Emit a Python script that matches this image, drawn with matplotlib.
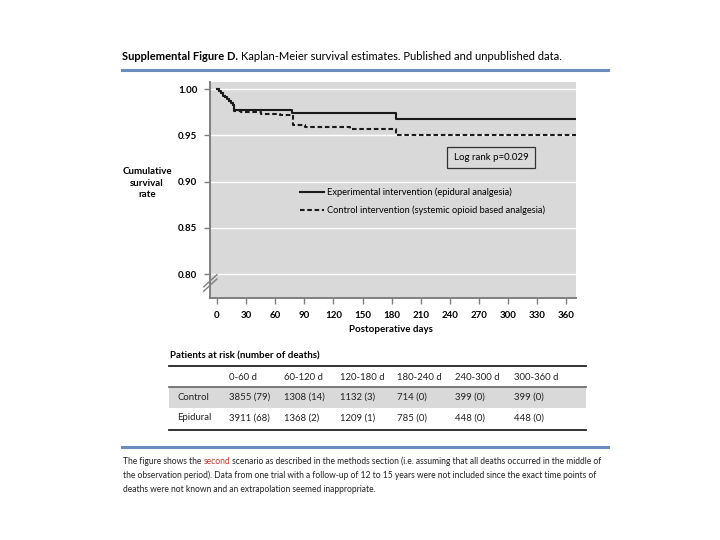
import numpy as np
import matplotlib
matplotlib.use("Agg")
from matplotlib import pyplot as plt

plt.rcParams['font.family'] = ['Lato', 'DejaVu Sans']

# --- survival curves (step points) ---
days_epi = [0, 2, 4, 6, 8, 10, 12, 14, 16, 18, 77, 184, 370]
surv_epi = [1.0, 0.998, 0.996, 0.993, 0.991, 0.989, 0.987, 0.985, 0.983,
            0.977, 0.974, 0.968, 0.968]
days_ctl = [0, 2, 4, 6, 8, 10, 12, 14, 16, 18, 25, 45, 65, 78, 91, 137, 184, 370]
surv_ctl = [1.0, 0.998, 0.996, 0.993, 0.991, 0.989, 0.987, 0.985, 0.983,
            0.976, 0.975, 0.973, 0.972, 0.961, 0.959, 0.957, 0.950, 0.950]

label_epi = 'Experimental intervention (epidural analgesia)'
label_ctl = 'Control intervention (systemic opioid based analgesia)'

x_ticks = [0, 30, 60, 90, 120, 150, 180, 210, 240, 270, 300, 330, 360]
y_ticks = [0.80, 0.85, 0.90, 0.95, 1.00]

# --- risk table ---
periods = ['0-60 d', '60-120 d', '120-180 d', '180-240 d', '240-300 d', '300-360 d']
ctl_risk = ['3855 (79)', '1308 (14)', '1132 (3)', '714 (0)', '399 (0)', '399 (0)']
epi_risk = ['3911 (68)', '1368 (2)', '1209 (1)', '785 (0)', '448 (0)', '448 (0)']

W, H = 720, 540
fig = plt.figure(figsize=(W / 100, H / 100), dpi=100)


def fx(x):
    return x / W


def fy(y):
    return 1 - y / H


BLUE = '#6a8cbf'
GRAY_BG = '#d9d9d9'
TXT = '#222222'

# header
t0 = fig.text(fx(122), fy(56), 'Supplemental Figure D.', fontsize=8.0, fontweight='bold',
              va='center', ha='left')
fig.canvas.draw()
x_after = t0.get_window_extent(fig.canvas.get_renderer()).x1
fig.text(x_after / W + 0.004, fy(56),
         'Kaplan-Meier survival estimates. Published and unpublished data.',
         fontsize=8.0, va='center', ha='left')
fig.add_artist(plt.Line2D([fx(122), fx(608)], [fy(70), fy(70)], color=BLUE, lw=2.2))

# --- KM plot ---
ax = fig.add_axes([fx(210), fy(298), (576 - 210) / W, (298 - 82) / H])
ax.set_facecolor(GRAY_BG)
for yv in y_ticks:
    ax.axhline(yv, color='white', lw=1.0, zorder=1)
ax.step(days_epi, surv_epi, where='post', color='#1a1a1a', lw=1.5, label=label_epi, zorder=3)
ax.step(days_ctl, surv_ctl, where='post', color='#1a1a1a', lw=1.5, ls=(0, (2.2, 1.3)),
        label=label_ctl, zorder=3)

ax.set_xlim(-7.2, 370)
ax.set_ylim(0.7743, 1.0076)
ax.set_xticks(x_ticks)
ax.set_yticks(y_ticks)
ax.set_yticklabels([f'{v:.2f}' for v in y_ticks])
for s in ['top', 'right']:
    ax.spines[s].set_visible(False)
for s in ['left', 'bottom']:
    ax.spines[s].set_color('#7f7f7f')
    ax.spines[s].set_linewidth(1.4)
ax.tick_params(axis='both', length=4, width=1, color='#7f7f7f', labelsize=7, pad=5)
for lab in ax.get_xticklabels() + ax.get_yticklabels():
    lab.set_fontweight('bold')

# axis break marks
for dy in (0.0, 0.02):
    ax.plot([-0.017, 0.019], [0.032 + dy, 0.088 + dy], transform=ax.transAxes,
            color='#7f7f7f', lw=1.0, clip_on=False, zorder=5)

ax.legend(loc='upper left', bbox_to_anchor=(0.245, 0.51), frameon=False,
          fontsize=6.65, handlelength=2.6, handletextpad=0.4, borderpad=0,
          borderaxespad=0, labelspacing=0.9)

ax.text(0.768, 0.651, 'Log rank p=0.029', transform=ax.transAxes, fontsize=7.0,
        ha='center', va='center',
        bbox=dict(boxstyle='square,pad=0.65', facecolor=GRAY_BG, edgecolor='#333333', lw=0.9))

fig.text(fx(147), fy(183), 'Cumulative\nsurvival\nrate', fontsize=7.0, fontweight='bold',
         ha='center', va='center', linespacing=1.4)
fig.text(fx(391), fy(330), 'Postoperative days', fontsize=7.0, fontweight='bold',
         ha='center', va='center')

# --- risk table ---
fig.text(fx(170), fy(356), 'Patients at risk (number of deaths)', fontsize=7.0,
         fontweight='bold', ha='left', va='center')
fig.add_artist(plt.Line2D([fx(169), fx(586)], [fy(366), fy(366)], color=TXT, lw=1.3))
fig.add_artist(plt.Rectangle((fx(169), fy(408)), fx(586) - fx(169), (408 - 387) / H,
                             facecolor=GRAY_BG, edgecolor='none'))
fig.add_artist(plt.Line2D([fx(169), fx(586)], [fy(387), fy(387)], color='#6f6f6f', lw=1.3))
fig.add_artist(plt.Line2D([fx(169), fx(586)], [fy(430), fy(430)], color=TXT, lw=1.3))

col_x = [229, 284, 340, 397, 455, 514]
for cx, p, c, e in zip(col_x, periods, ctl_risk, epi_risk):
    fig.text(fx(cx), fy(377), p, fontsize=6.9, ha='left', va='center', color=TXT)
    fig.text(fx(cx), fy(397), c, fontsize=6.9, ha='left', va='center', color=TXT)
    fig.text(fx(cx), fy(418), e, fontsize=6.9, ha='left', va='center', color=TXT)
fig.text(fx(177), fy(397), 'Control', fontsize=6.9, ha='left', va='center', color=TXT)
fig.text(fx(177), fy(418), 'Epidural', fontsize=6.9, ha='left', va='center', color=TXT)

# --- footer ---
fig.add_artist(plt.Line2D([fx(122), fx(608)], [fy(447), fy(447)], color=BLUE, lw=2.2))
fs_note = 6.15
pieces = [('The figure shows the ', TXT), ('second', '#c0392b'),
          (' scenario as described in the methods section (i.e. assuming that all deaths '
           'occurred in the middle of', TXT)]
xpos = fx(123)
for txt, col in pieces:
    t = fig.text(xpos, fy(461), txt, fontsize=fs_note, ha='left', va='center', color=col)
    fig.canvas.draw()
    xpos = t.get_window_extent(fig.canvas.get_renderer()).x1 / W
fig.text(fx(123), fy(475), 'the observation period). Data from one trial with a follow-up of '
         '12 to 15 years were not included since the exact time points of',
         fontsize=fs_note, ha='left', va='center', color=TXT)
fig.text(fx(123), fy(489), 'deaths were not known and an extrapolation seemed inappropriate.',
         fontsize=fs_note, ha='left', va='center', color=TXT)

fig.savefig('out.png', dpi=100, facecolor='white')
